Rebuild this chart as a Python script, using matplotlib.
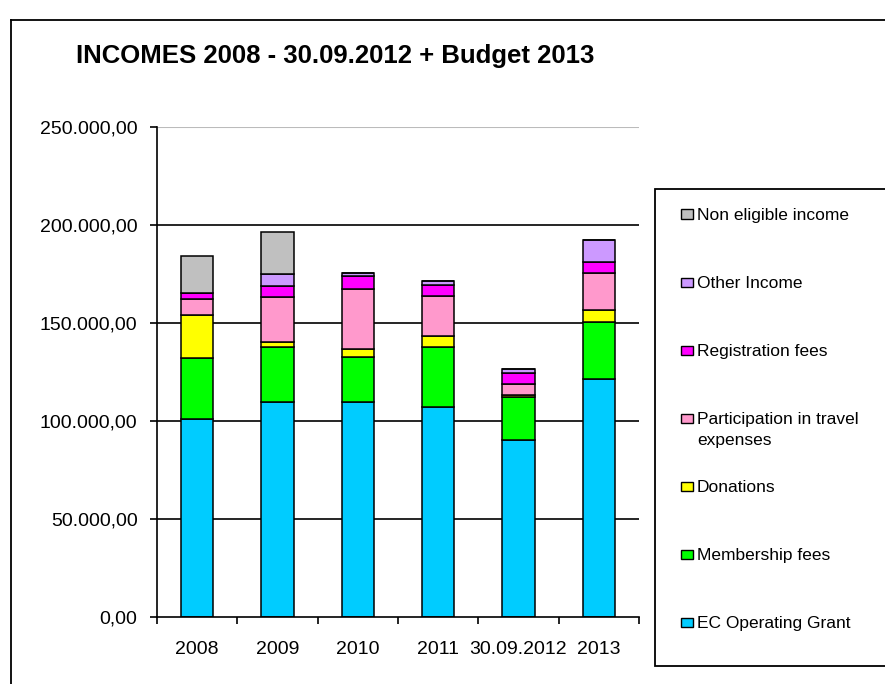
import matplotlib
matplotlib.use("Agg")
import matplotlib.pyplot as plt
from matplotlib.patches import Rectangle
from matplotlib.lines import Line2D
from matplotlib.ticker import FuncFormatter
import numpy as np

# data (EUR)
categories = ["2008", "2009", "2010", "2011", "30.09.2012", "2013"]
ec_grant = [101000, 109900, 109900, 107300, 90300, 121400]
membership = [31100, 28000, 22900, 30300, 21900, 29300]
donations = [22000, 2600, 4100, 5900, 1000, 5900]
participation = [8100, 22600, 30300, 20500, 5600, 18800]
registration = [2900, 5900, 6900, 5600, 5600, 5600]
other_income = [0, 5800, 1200, 1800, 1900, 11500]
non_eligible = [19300, 21800, 0, 0, 0, 0]

series = [
    ("EC Operating Grant", ec_grant, "#00CCFF"),
    ("Membership fees", membership, "#00FF00"),
    ("Donations", donations, "#FFFF00"),
    ("Participation in travel\nexpenses", participation, "#FF99CC"),
    ("Registration fees", registration, "#FF00FF"),
    ("Other Income", other_income, "#CC99FF"),
    ("Non eligible income", non_eligible, "#C0C0C0"),
]

W, H = 885, 684
FONT = "Liberation Sans"
plt.rcParams["font.family"] = [FONT, "DejaVu Sans"]


def fx(px):
    return px / W


def fy(py):
    return 1 - py / H


fig = plt.figure(figsize=(W / 100, H / 100), dpi=100)
ax = fig.add_axes([fx(157), fy(617), fx(639) - fx(157), fy(127) - fy(617)])

x = np.arange(len(categories))
bottom = np.zeros(len(categories))
for label, vals, color in series:
    vals = np.array(vals, dtype=float)
    ax.bar(x, vals, width=0.4, bottom=bottom, color=color,
           edgecolor="black", linewidth=1.1, zorder=3)
    bottom += vals

ax.set_xlim(-0.5, len(categories) - 0.5)
ax.set_ylim(0, 250000)
ax.set_yticks(np.arange(0, 250001, 50000))
ax.yaxis.set_major_formatter(FuncFormatter(
    lambda v, p: f"{v:,.2f}".replace(",", "X").replace(".", ",").replace("X", ".")))

for v in range(50000, 200001, 50000):
    ax.axhline(v, color="black", linewidth=1.2, zorder=1)
ax.axhline(250000, color="#BBBBBB", linewidth=1.5, zorder=1)

ax.set_xticks(x)
ax.set_xticklabels(categories)
ax.set_xticks(np.arange(-0.5, len(categories)), minor=True)
ax.tick_params(axis="x", which="major", length=0, pad=17, labelsize=14)
ax.tick_params(axis="x", which="minor", length=5, width=1.2, direction="out")
ax.tick_params(axis="y", length=5, width=1.2, direction="out", pad=9, labelsize=14)

for s in ["top", "right"]:
    ax.spines[s].set_visible(False)
for s in ["left", "bottom"]:
    ax.spines[s].set_linewidth(1.2)
    ax.spines[s].set_zorder(4)

fig.text(fx(76), fy(63), "INCOMES 2008 - 30.09.2012 + Budget 2013",
         fontsize=18.5, fontweight="bold", va="baseline", ha="left")

# chart area border (cropped on right and bottom)
fig.add_artist(Line2D([fx(11), fx(11)], [fy(20), 0], color="black", linewidth=1.3))
fig.add_artist(Line2D([fx(11), 1], [fy(20), fy(20)], color="black", linewidth=1.3))

# legend box
fig.add_artist(Rectangle((fx(655), fy(666)), fx(W + 10) - fx(655), fy(189) - fy(666),
                         transform=fig.transFigure, facecolor="white",
                         edgecolor="black", linewidth=1.3))
for i, (label, vals, color) in enumerate(reversed(series)):
    yc = 214 + i * 68
    fig.add_artist(Rectangle((fx(681), fy(yc + 4.5)), fx(12), 9 / H,
                             transform=fig.transFigure, facecolor=color,
                             edgecolor="black", linewidth=1.0))
    for j, line in enumerate(label.split("\n")):
        fig.text(fx(697), fy(yc + 6 + j * 21), line, fontsize=12.5,
                 va="baseline", ha="left")

fig.savefig("out.png", dpi=100)
